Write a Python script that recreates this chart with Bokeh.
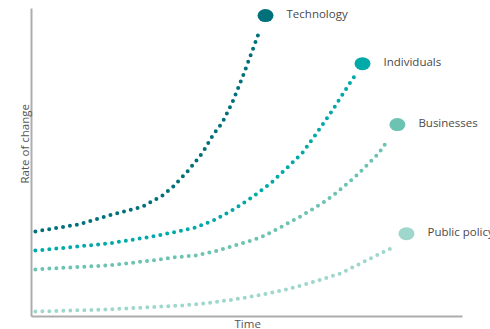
from bokeh.plotting import figure
from bokeh.models import Range1d, LinearAxis, FixedTicker, Title
from bokeh.core.properties import value
from bokeh.embed import file_html
from bokeh.resources import INLINE

# Series: time (x) against rate of change (y), both on a 0-100 scale
series_names = ["Technology", "Individuals", "Businesses", "Public policy"]
series_colors = ["#00717a", "#00aaa8", "#6cc3b2", "#9fd7cd"]

tech_x = [0.9, 10.9, 17.9, 25.8, 30.4, 32.9, 36.4, 39.7, 42.2, 44.3, 46.6, 49.2, 51.5, 52.7]
tech_y = [27.6, 29.9, 32.8, 35.7, 39.3, 42.2, 47.4, 53.2, 59.1, 63.0, 69.5, 78.6, 87.3, 91.9]

indiv_x = [0.9, 17.9, 28.1, 32.9, 38.1, 42.7, 47.3, 51.5, 55.7, 59.4, 62.9, 66.1, 69.8, 73.5, 75.4]
indiv_y = [21.4, 23.7, 26.0, 27.3, 28.9, 31.5, 35.1, 39.0, 43.5, 48.4, 53.2, 59.4, 66.9, 75.0, 78.9]

bus_x = [0.9, 17.9, 28.1, 32.9, 38.1, 43.2, 48.0, 53.1, 57.3, 61.9, 64.7, 67.7, 70.5, 73.3, 75.9, 78.2, 80.5, 82.6]
bus_y = [15.3, 16.6, 18.2, 19.2, 19.8, 21.4, 23.4, 25.6, 28.6, 32.1, 34.4, 37.0, 39.9, 43.2, 46.4, 49.7, 52.9, 57.1]

pub_x = [0.9, 17.9, 35.0, 39.9, 46.9, 53.6, 60.1, 66.6, 71.7, 76.3, 81.0, 83.8]
pub_y = [1.6, 2.3, 3.6, 4.2, 5.5, 7.1, 9.1, 11.7, 14.0, 17.2, 20.5, 22.4]

# End markers where each series is labelled
end_x = [54.3, 76.8, 84.9, 87.0]
end_y = [97.7, 82.1, 62.3, 26.9]

series_xy = [(tech_x, tech_y), (indiv_x, indiv_y), (bus_x, bus_y), (pub_x, pub_y)]

p = figure(
    width=490, height=329,
    output_backend="svg", toolbar_location=None,
    x_range=Range1d(0, 106.5), y_range=Range1d(0, 102.6),
    x_axis_type=None, y_axis_type=None,
    min_border_left=31, min_border_right=0, min_border_top=0, min_border_bottom=13,
)
p.outline_line_color = None
p.background_fill_color = "white"
p.border_fill_color = "white"

axis_color = "#adadad"
for place in ("below", "left"):
    ax = LinearAxis(
        ticker=FixedTicker(ticks=[]), bounds=(0, 100),
        axis_line_color=axis_color, axis_line_width=2,
        major_tick_line_color=None, minor_tick_line_color=None,
        major_label_text_font_size="0px", major_label_standoff=0,
        major_tick_out=0, major_tick_in=0, axis_label_standoff=0,
    )
    p.add_layout(ax, place)

# Axis captions, placed along the drawn axis lines
caption_style = dict(text_font="Open Sans", text_font_size="11.5px", text_color="#555555",
                     text_font_style="normal", align="left")
p.add_layout(Title(text="Time", offset=203, standoff=-5, **caption_style), "below")
p.add_layout(Title(text="Rate of change", offset=133, standoff=0, **caption_style), "left")

# Dotted curves
for (xs, ys), color in zip(series_xy, series_colors):
    p.line(xs, ys, line_color=color, line_width=4, line_dash="0 7", line_cap="round")

# End markers and their labels
p.ellipse(end_x, end_y, width=16, height=13, width_units="screen", height_units="screen",
          fill_color=series_colors, line_color=None)
p.text(end_x, end_y, text=series_names, x_offset=21, y_offset=-2,
       text_baseline="middle", text_align="left",
       text_font=value("Open Sans"), text_font_size="11.5px", text_color="#4a4a4a")

open("out.html", "w").write(file_html(p, INLINE))
